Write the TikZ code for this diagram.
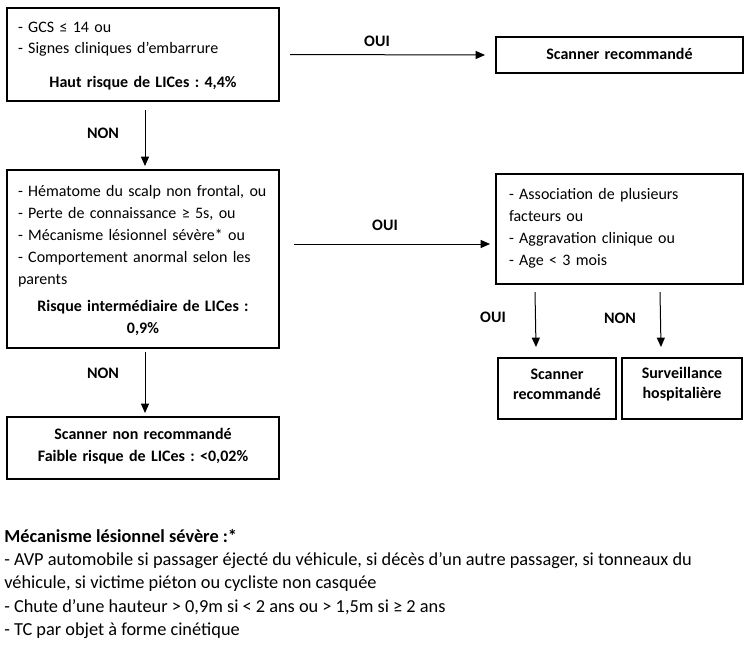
\documentclass[tikz,border=0pt]{standalone}
\usepackage{fontspec}
\setmainfont{Carlito}
\usetikzlibrary{arrows.meta}
\begin{document}
\frenchspacing
\lineskiplimit=-100pt
\begin{tikzpicture}[x=0.75pt,y=-0.75pt,
  box/.style={draw, line width=1.5pt, inner ysep=0pt, anchor=north west,
    font=\fontsize{12}{16.5}\selectfont},
  lbl/.style={inner sep=0pt, font=\fontsize{12}{14}\selectfont\bfseries},
  fnline/.style={inner sep=0pt, anchor=base west, font=\fontsize{13.75}{17}\selectfont},
  arr/.style={line width=0.75pt, -{Triangle[length=7pt,width=6pt]}}]
\useasboundingbox (0,0) rectangle (750,662);
\fill[white] (0,0) rectangle (750,662);

\node[box, minimum width=204pt, minimum height=69.75pt, text width=187.5pt, inner xsep=8.25pt] (b1) at (6,7)
  {{\fontsize{12}{15.75}\selectfont\raggedright\rule{0pt}{10pt}- GCS \smash{≤} 14 ou\\- Signes cliniques d’embarrure\par}\vspace{9pt}\centering\bfseries Haut risque de LICes : 4,4\%\par};

\node[box, minimum width=185.25pt, minimum height=27pt, text width=170pt, inner xsep=7.625pt] (tr) at (495,36)
  {\centering\bfseries Scanner recommandé\par\kern1pt};

\node[box, minimum width=204pt, minimum height=133.5pt, text width=187.5pt, inner xsep=8.25pt] (b2) at (6,169)
  {\raggedright\rule{0pt}{10.3pt}- Hématome du scalp non frontal, ou\\- Perte de connaissance \smash{≥} 5s, ou\\- Mécanisme lésionnel sévère* ou\\- Comportement anormal selon les\\parents\par\vspace{3.75pt}\centering\bfseries Risque intermédiaire de LICes :\\0,9\%\par};

\node[box, minimum width=204pt, minimum height=46.5pt, text width=187.5pt, inner xsep=8.25pt] (b3) at (6,416)
  {\centering\bfseries Scanner non recommandé\\Faible risque de LICes : <0,02\%\par\kern3.5pt};

\node[box, minimum width=185.25pt, minimum height=82.5pt, text width=165.75pt, inner xsep=9.75pt] (b4) at (495,173)
  {\raggedright - Association de plusieurs\\facteurs ou\\- Aggravation clinique ou\\- Age < 3 mois\par\kern1.5pt};

\node[box, minimum width=88.5pt, minimum height=45.75pt, text width=80pt, inner xsep=4.25pt] (b5) at (497,357)
  {\fontsize{12}{15}\selectfont\centering\bfseries Scanner\\recommandé\par\kern7pt};

\node[box, minimum width=90pt, minimum height=45.75pt, text width=82pt, inner xsep=4pt] (b6) at (621,357)
  {\fontsize{12}{15}\selectfont\centering\bfseries Surveillance\\hospitalière\par\kern7pt};

\draw[arr] ([shift={(10,0)}]b1.east) -- ([shift={(-10,0)}]tr.west);
\draw[arr] ([shift={(2,8)}]b1.south) -- ([shift={(2,-3)}]b2.north);
\draw[arr] ([shift={(2,3)}]b2.south) -- ([shift={(2,-3)}]b3.north);
\draw[arr] ([shift={(14,-15)}]b2.east) -- ([shift={(-5,15)}]b4.west);
\draw[arr] ([shift={(40,7)}]b4.south west) -- ([shift={(-21,-10)}]b5.north);
\draw[arr] ([shift={(165,7)}]b4.south west) -- ([shift={(-21,-10)}]b6.north);

\node[lbl] (l1) at (377,41) {OUI};
\node[lbl] (l2) at (103,133) {NON};
\node[lbl] (l3) at (103,373) {NON};
\node[lbl] (l4) at (385,225) {OUI};
\node[lbl] (l5) at (493,317) {OUI};
\node[lbl] (l6) at (620,318) {NON};

\node[fnline] (fn1) at (4,542) {\textbf{Mécanisme lésionnel sévère :*}};
\node[fnline] (fn2) at (4,565) {- AVP automobile si passager éjecté du véhicule, si décès d’un autre passager, si tonneaux du};
\node[fnline] (fn3) at (4,588) {véhicule, si victime piéton ou cycliste non casquée};
\node[fnline] (fn4) at (4,612) {- Chute d’une hauteur > 0,9m si < 2 ans ou > 1,5m si ≥ 2 ans};
\node[fnline] (fn5) at (4,635) {- TC par objet à forme cinétique};
\end{tikzpicture}
\end{document}
